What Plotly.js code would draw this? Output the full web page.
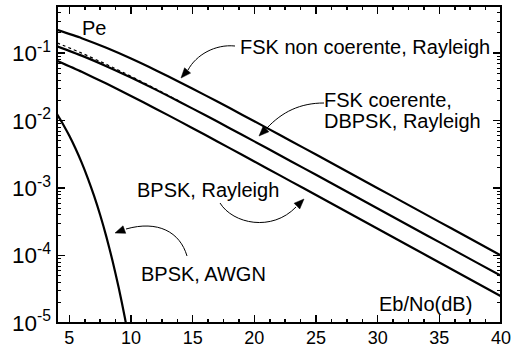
<!DOCTYPE html>
<html>
<head>
<meta charset="utf-8">
<script src="https://cdn.plot.ly/plotly-3.0.1.min.js"></script>
<style>html,body{margin:0;padding:0;background:#fff;}#chart{width:512px;height:355px;}</style>
</head>
<body>
<div id="chart"></div>
<script>
// Eb/No (dB) sample points for the Rayleigh curves
const ebnoRay = [4, 6, 8, 10, 12, 14, 16, 18, 20, 22, 24, 26, 28, 30, 32, 34, 36, 38, 40];
// FSK non coerente, Rayleigh
const pFskNonCoh = [0.2216, 0.1672, 0.1203, 0.08333, 0.05603, 0.03687, 0.02392, 0.01536, 0.009804, 0.006231,
  0.003950, 0.002499, 0.001580, 0.000998, 0.0006302, 0.0003978, 0.0002511, 0.0001584, 0.00010];
// FSK coerente, Rayleigh (solid)
const pFskCoh = [0.1269, 0.0921, 0.0643, 0.04356, 0.02884, 0.01879, 0.01211, 0.00774, 0.004926, 0.003125,
  0.001979, 0.0012513, 0.0007906, 0.0004993, 0.00031514, 0.00019893, 0.00012554, 0.00007921, 0.00005];
// DBPSK, Rayleigh (dashed, visible at low Eb/No)
const ebnoDb = [4, 6, 8, 10, 12, 14];
const pDbpsk = [0.1424, 0.1004, 0.0684, 0.04545, 0.02968, 0.01914];
// BPSK, Rayleigh
const pBpskRay = [0.07714, 0.05300, 0.03546, 0.02327, 0.01507, 0.009666, 0.006164, 0.003917, 0.002481, 0.001570,
  0.0009923, 0.0006268, 0.0003958, 0.0002498, 0.00015764, 0.00009949, 0.00006278, 0.00003962, 0.000025];
// BPSK, AWGN
const ebnoAwgn = [4, 4.5, 5, 5.5, 6, 6.5, 7, 7.5, 8, 8.5, 9, 9.5, 10];
const pBpskAwgn = [0.01250, 0.00879, 0.005954, 0.003861, 0.002388, 0.001399, 0.0007727, 0.0003990, 0.0001909,
  0.0000840, 0.00003363, 0.0000121, 0.00000387];

// y tick labels: Plotly's power labels (unicode minus) mapped to the reference's hyphen labels
const yLabelAlias = {};
['1', '2', '3', '4', '5'].forEach(function (e) {
  yLabelAlias['10<sup>\u2212' + e + '</sup>'] = '10<sup>-' + e + '</sup>';
});

// ---- layout geometry (pixel helpers for decorations) ----
const M = {l: 57, r: 11, t: 6, b: 32};
const W = 512 - M.l - M.r, H = 355 - M.t - M.b;
const fx = px => (px - M.l) / W;
const fy = py => (H + M.t - py) / H;
function curve(p0, c1, c2, p1) {
  return 'M ' + fx(p0[0]) + ',' + fy(p0[1]) + ' C ' + fx(c1[0]) + ',' + fy(c1[1]) + ' ' +
    fx(c2[0]) + ',' + fy(c2[1]) + ' ' + fx(p1[0]) + ',' + fy(p1[1]);
}
function head(tip, dir) {
  const n = Math.hypot(dir[0], dir[1]);
  const dx = dir[0] / n, dy = dir[1] / n, L = 10, w = 4;
  const bx = tip[0] - L * dx, by = tip[1] - L * dy;
  const a = [bx - w * dy, by + w * dx], b = [bx + w * dy, by - w * dx];
  return 'M ' + fx(tip[0]) + ',' + fy(tip[1]) + ' L ' + fx(a[0]) + ',' + fy(a[1]) + ' L ' +
    fx(b[0]) + ',' + fy(b[1]) + ' Z';
}
const arrowLine = {color: '#000', width: 1};
// plot frame (drawn as a shape so that the inside ticks stay visible)
const shapes = [{type: 'rect', xref: 'paper', yref: 'paper', x0: 0, x1: 1, y0: 0, y1: 1,
  line: {color: '#000', width: 2}, fillcolor: 'rgba(0,0,0,0)'}];
function arrow(p0, c1, c2, p1, tip) {
  shapes.push({type: 'path', xref: 'paper', yref: 'paper', path: curve(p0, c1, c2, p1), line: arrowLine});
  shapes.push({type: 'path', xref: 'paper', yref: 'paper', path: head(tip, [tip[0] - p1[0], tip[1] - p1[1]]),
    fillcolor: '#000', line: {color: '#000', width: 0.5}});
}
arrow([235, 46], [215, 44], [196, 55], [188, 70], [181, 78]);
arrow([324, 103], [300, 103], [282, 112], [267, 128], [259, 136]);
arrow([220, 203], [233, 224], [272, 232], [296, 207], [304, 199]);
arrow([187, 256], [180, 232], [158, 220], [126, 229], [115, 233]);

const FONT = 'Liberation Sans, Arial, Helvetica, sans-serif';
function label(text, px, py, anchor) {
  return {text: text, xref: 'paper', yref: 'paper', x: fx(px), y: fy(py), xanchor: anchor || 'left',
    yanchor: 'middle', showarrow: false, font: {family: FONT, size: 20, color: '#000'}};
}
const annotations = [
  label('Pe', 94, 27.5, 'center'),
  label('FSK non coerente, Rayleigh', 238, 47.5),
  label('FSK coerente,', 322, 99.5),
  label('DBPSK, Rayleigh', 322, 121),
  label('BPSK, Rayleigh', 135, 190),
  label('BPSK, AWGN', 139, 273.5),
  label('Eb/No(dB)', 377, 303.5)
];

const solid = {color: '#000', width: 2.2, shape: 'spline', smoothing: 0.6};
const traces = [
  {x: ebnoRay, y: pFskNonCoh, mode: 'lines', line: solid, name: 'FSK non coerente, Rayleigh'},
  {x: ebnoDb, y: pDbpsk, mode: 'lines', line: {color: '#000', width: 1.2, dash: 'dot', shape: 'spline', smoothing: 0.6}, name: 'DBPSK, Rayleigh'},
  {x: ebnoRay, y: pFskCoh, mode: 'lines', line: solid, name: 'FSK coerente, Rayleigh'},
  {x: ebnoRay, y: pBpskRay, mode: 'lines', line: solid, name: 'BPSK, Rayleigh'},
  {x: ebnoAwgn, y: pBpskAwgn, mode: 'lines', line: solid, name: 'BPSK, AWGN'}
];

const layout = {
  width: 512, height: 355, margin: M, showlegend: false,
  paper_bgcolor: '#fff', plot_bgcolor: '#fff',
  font: {family: FONT, size: 18, color: '#000'},
  xaxis: {range: [4, 40], tickmode: 'linear', tick0: 5, dtick: 5,
    ticks: 'inside', ticklen: 8, tickwidth: 1.5, tickcolor: '#000', showgrid: false, zeroline: false,
    showline: false, mirror: 'allticks', ticklabelstandoff: 2,
    tickfont: {family: FONT, size: 18},
    minor: {tickmode: 'linear', tick0: 5, dtick: 1.25, ticks: 'inside', ticklen: 4, tickwidth: 1.5, tickcolor: '#000', showgrid: false}},
  yaxis: {type: 'log', range: [-5, -0.3], tickmode: 'linear', tick0: 0, dtick: 1, exponentformat: 'power',
    labelalias: yLabelAlias,
    ticks: 'inside', ticklen: 8, tickwidth: 1.5, tickcolor: '#000', showgrid: false, zeroline: false,
    showline: false, mirror: 'allticks', ticklabelstandoff: 5,
    tickfont: {family: FONT, size: 18},
    minor: {tickmode: 'linear', dtick: 'D1', ticks: 'inside', ticklen: 4, tickwidth: 1, tickcolor: '#000', showgrid: false}},
  shapes: shapes,
  annotations: annotations
};
Plotly.newPlot('chart', traces, layout, {staticPlot: true, displayModeBar: false});
</script>
</body>
</html>
